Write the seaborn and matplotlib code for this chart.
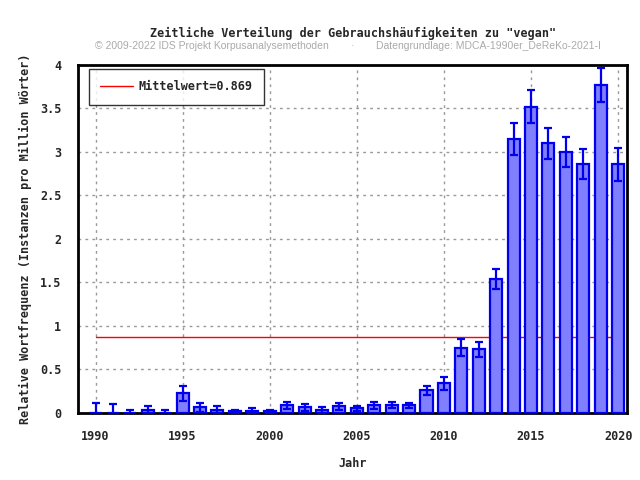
import numpy as np
import pandas as pd
import seaborn as sns
import matplotlib.pyplot as plt
from matplotlib.ticker import MultipleLocator

# relative frequencies per year
years = list(range(1990, 2021))
freq = [0.0, 0.0, 0.0, 0.035, 0.0, 0.226, 0.065, 0.04, 0.02, 0.028,
        0.02, 0.088, 0.065, 0.035, 0.077, 0.054, 0.088, 0.088, 0.088, 0.26,
        0.34, 0.75, 0.73, 1.54, 3.15, 3.52, 3.10, 3.0, 2.86, 3.77, 2.86]
err = [0.11, 0.10, 0.04, 0.05, 0.04, 0.09, 0.055, 0.035, 0.015, 0.03,
       0.02, 0.04, 0.04, 0.03, 0.04, 0.03, 0.04, 0.035, 0.025, 0.055,
       0.07, 0.095, 0.09, 0.12, 0.18, 0.19, 0.175, 0.17, 0.17, 0.2, 0.19]
mean_value = 0.869

df = pd.DataFrame({"Jahr": years, "freq": freq})

sns.set_style("white")
mono = "DejaVu Sans Mono"

fig = plt.figure(figsize=(6.4, 4.8), dpi=100)
ax = fig.add_axes([0.122, 0.1396, 0.858, 0.725])

sns.barplot(data=df, x="Jahr", y="freq", native_scale=True, width=0.69,
            color="#8080ff", saturation=1, edgecolor="#0000ee",
            linewidth=1.6, errorbar=None, ax=ax, zorder=3)
ax.errorbar(years, freq, yerr=err, fmt="none", ecolor="#0000ee",
            elinewidth=1.6, capsize=2.7, capthick=1.6, zorder=4)

ax.plot([1990, 2020.1], [mean_value, mean_value], color="red", lw=1,
        zorder=2, label="Mittelwert=0.869")

ax.set_xlim(1989, 2020.52)
ax.set_ylim(0, 4)
ax.xaxis.set_major_locator(MultipleLocator(5))
ax.xaxis.set_minor_locator(MultipleLocator(1))
ax.yaxis.set_minor_locator(MultipleLocator(0.1))
ax.set_yticks([0, 0.5, 1, 1.5, 2, 2.5, 3, 3.5, 4])
ax.set_yticklabels(["0", "0.5", "1", "1.5", "2", "2.5", "3", "3.5", "4"])
ax.tick_params(axis="both", which="major", direction="out", length=6,
               width=1.6, labelsize=8.5, color="black", pad=6)
ax.tick_params(axis="both", which="minor", direction="out", length=3,
               width=1.6, color="black")
for lab in ax.get_xticklabels() + ax.get_yticklabels():
    lab.set_family(mono)
    lab.set_weight("bold")

ax.grid(True, which="major", color="#999999", linestyle=(0, (2, 3)),
        linewidth=1, zorder=0)
ax.set_axisbelow(True)
for s in ax.spines.values():
    s.set_visible(True)
    s.set_color("black")
    s.set_linewidth(2)

ax.set_xlabel("Jahr", family=mono, weight="bold", fontsize=8.5, labelpad=10)
ax.set_ylabel("Relative Wortfrequenz (Instanzen pro Million Wörter)",
              family=mono, weight="bold", fontsize=8.5, labelpad=6)

leg = ax.legend(loc="upper left", bbox_to_anchor=(0.02, 0.988),
                borderaxespad=0, frameon=True, fancybox=False,
                handlelength=2.75, handletextpad=0.5, borderpad=0.95,
                prop={"family": mono, "weight": "bold", "size": 8.5})
leg.get_frame().set_edgecolor("black")
leg.get_frame().set_linewidth(1)

fig.text(0.551, 0.931, "Zeitliche Verteilung der Gebrauchshäufigkeiten zu \"vegan\"",
         ha="center", va="center", family=mono, weight="bold", fontsize=8.5)
fig.text(0.148, 0.904, "© 2009-2022 IDS Projekt Korpusanalysemethoden",
         ha="left", va="center", family="Liberation Sans", fontsize=7.5,
         color="#aaaaaa")
fig.text(0.551, 0.904, "·", ha="center", va="center",
         family="Liberation Sans", fontsize=7.5, color="#aaaaaa")
fig.text(0.587, 0.904, "Datengrundlage: MDCA-1990er_DeReKo-2021-I",
         ha="left", va="center", family="Liberation Sans", fontsize=7.5,
         color="#aaaaaa")

fig.savefig("out.png", dpi=100)
